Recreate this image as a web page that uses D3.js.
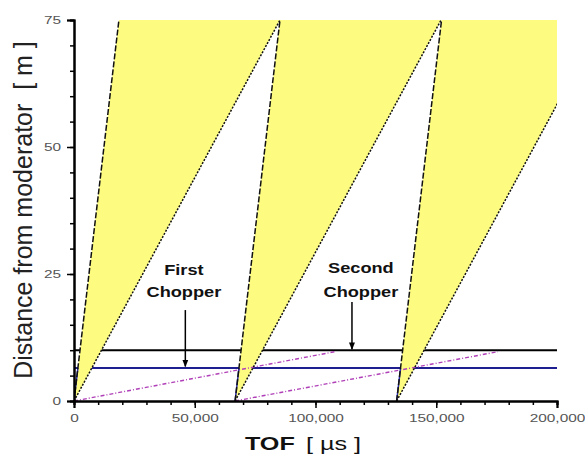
<!DOCTYPE html>
<html>
<head>
<meta charset="utf-8">
<script src="https://cdn.jsdelivr.net/npm/d3@7"></script>
<style>
  body { margin: 0; background: #fff; }
  svg { display: block; }
  text { font-family: "Liberation Sans", Arial, sans-serif; }
</style>
</head>
<body>
<svg id="chart" width="585" height="461"></svg>
<script>
// frame data (times in µs, distances in m)
var frameStarts = [0, 66700, 133600];
var fastArrival = [18600, 85300, 152200];   // fastest edge reaches 75 m
var slowArrival = [85300, 152000, 218900];  // slowest edge reaches 75 m
var choppers = [
  {name: ["First", "Chopper"], dist: 6.5, color: "#1e1e90", labelT: 45500, labelD: [24.8, 20.5], arrowT: 46100, arrowD: [17.9, 6.8]},
  {name: ["Second", "Chopper"], dist: 10, color: "#000", labelT: 118800, labelD: [25.2, 20.5], arrowT: 115100, arrowD: [19.5, 10.2]}
];
// dash-dot traces: start time, end time, end distance
var slowTraces = [[0, 108000, 9.7], [66700, 175500, 9.7]];
var xTicks = [0, 50000, 100000, 150000, 200000];
var xMinor = d3.range(0, 200001, 10000);
var yTicks = [0, 25, 50, 75];
var yMinor = d3.range(0, 76, 5);
var topDist = 75;

var svg = d3.select("#chart");
var x = d3.scaleLinear().domain([0, 200000]).range([74, 557]);
var y = d3.scaleLinear().domain([0, 75]).range([401, 20]);
var stretch = 1.4;

svg.append("defs").append("clipPath").attr("id", "plot")
  .append("rect")
  .attr("x", x(0)).attr("y", y(75))
  .attr("width", x(200000) - x(0)).attr("height", y(0) - y(75));

svg.append("defs").append("marker")
  .attr("id", "head").attr("viewBox", "0 0 10 10")
  .attr("refX", 9).attr("refY", 5)
  .attr("markerWidth", 5).attr("markerHeight", 5)
  .attr("orient", "auto")
  .append("path").attr("d", "M0,1L10,5L0,9Z").attr("fill", "#000");

var g = svg.append("g").attr("clip-path", "url(#plot)");

// chopper positions
g.selectAll(".chop").data(choppers).enter().append("line")
  .attr("x1", x(0)).attr("x2", x(200000))
  .attr("y1", function(d) { return y(d.dist); })
  .attr("y2", function(d) { return y(d.dist); })
  .attr("stroke", function(d) { return d.color; })
  .attr("stroke-width", 2);

// neutron bands
g.selectAll(".band").data(frameStarts).enter().append("path")
  .attr("fill", "#fdfc80")
  .attr("d", function(t0, i) {
    return "M" + x(t0) + "," + y(0) +
      "L" + x(fastArrival[i]) + "," + y(topDist) +
      "L" + x(slowArrival[i]) + "," + y(topDist) + "Z";
  });

g.selectAll(".trace").data(slowTraces).enter().append("line")
  .attr("x1", function(d) { return x(d[0]); })
  .attr("y1", y(0))
  .attr("x2", function(d) { return x(d[1]); })
  .attr("y2", function(d) { return y(d[2]); })
  .attr("stroke", "#b040b8").attr("stroke-width", 1.4)
  .attr("stroke-dasharray", "4,2,1,2");

// blue foot on each fast edge
g.selectAll(".foot").data(frameStarts).enter().append("line")
  .attr("x1", function(t0) { return x(t0); })
  .attr("y1", y(0))
  .attr("x2", function(t0, i) { return x(t0 + (fastArrival[i] - t0) * 6.5 / topDist); })
  .attr("y2", y(6.5))
  .attr("stroke", "#2a2ab0").attr("stroke-width", 1.5);

g.selectAll(".fast").data(frameStarts).enter().append("line")
  .attr("x1", function(t0) { return x(t0); })
  .attr("y1", y(0))
  .attr("x2", function(t0, i) { return x(fastArrival[i]); })
  .attr("y2", y(topDist))
  .attr("stroke", "#111").attr("stroke-width", 1.5)
  .attr("stroke-dasharray", "6,2");

g.selectAll(".slow").data(frameStarts).enter().append("line")
  .attr("x1", function(t0) { return x(t0); })
  .attr("y1", y(0))
  .attr("x2", function(t0, i) { return x(slowArrival[i]); })
  .attr("y2", y(topDist))
  .attr("stroke", "#111").attr("stroke-width", 1.5)
  .attr("stroke-dasharray", "2,1.5");

// labels and arrows
choppers.forEach(function(c) {
  c.name.forEach(function(word, k) {
    svg.append("text")
      .attr("transform", "translate(" + x(c.labelT) + "," + y(c.labelD[k]) + ") scale(1.3,1)")
      .attr("text-anchor", "middle")
      .attr("font-size", 14).attr("font-weight", "bold")
      .attr("fill", "#111")
      .text(word);
  });
  svg.append("line")
    .attr("x1", x(c.arrowT)).attr("x2", x(c.arrowT))
    .attr("y1", y(c.arrowD[0])).attr("y2", y(c.arrowD[1]))
    .attr("stroke", "#000").attr("stroke-width", 1.5)
    .attr("marker-end", "url(#head)");
});

// axes
var xMinorAxis = d3.axisBottom(x).tickValues(xMinor).tickSize(4).tickFormat("");
var yMinorAxis = d3.axisLeft(y).tickValues(yMinor).tickSize(4).tickFormat("");
svg.append("g").attr("transform", "translate(0," + y(0) + ")").call(xMinorAxis);
svg.append("g").attr("transform", "translate(" + x(0) + ",0)").call(yMinorAxis);

var xAxis = d3.axisBottom(x).tickValues(xTicks).tickSize(7).tickPadding(6)
  .tickFormat(d3.format(","));
var yAxis = d3.axisLeft(y).tickValues(yTicks).tickSize(7).tickPadding(6);

var gx = svg.append("g").attr("transform", "translate(0," + y(0) + ")").call(xAxis);
var gy = svg.append("g").attr("transform", "translate(" + x(0) + ",0)").call(yAxis);

svg.selectAll(".domain").attr("stroke-width", 2).attr("stroke", "#000");
svg.selectAll(".tick line").attr("stroke", "#000").attr("stroke-width", 1.5);
gx.selectAll("text").attr("font-size", 11).attr("fill", "#555")
  .attr("font-family", "'Liberation Sans', Arial, sans-serif")
  .attr("transform", "scale(" + stretch + ",1)");
gy.selectAll("text").attr("font-size", 11).attr("fill", "#555")
  .attr("font-family", "'Liberation Sans', Arial, sans-serif")
  .attr("x", -13 / stretch)
  .attr("transform", "scale(" + stretch + ",1)");

// axis titles
var xt = svg.append("text")
  .attr("transform", "translate(" + 303 + ",450) scale(" + stretch + ",1)")
  .attr("text-anchor", "middle").attr("font-size", 18).attr("fill", "#111");
xt.append("tspan").attr("font-weight", "bold").text("TOF");
xt.append("tspan").attr("dx", 8).text("[ µs ]");

svg.append("text")
  .attr("transform", "translate(32,210) rotate(-90)")
  .attr("text-anchor", "middle").attr("font-size", 25).attr("fill", "#222")
  .attr("xml:space", "preserve")
  .style("white-space", "pre")
  .text("Distance from moderator  [ m ]");
</script>
</body>
</html>
